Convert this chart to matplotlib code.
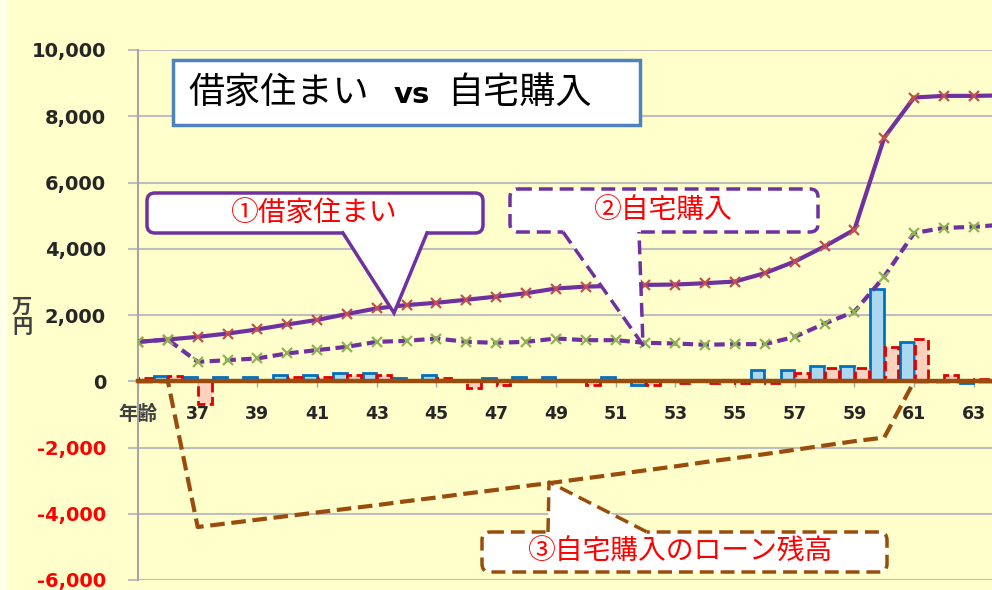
import matplotlib
matplotlib.use("Agg")
import matplotlib.pyplot as plt
from matplotlib.patches import FancyBboxPatch, Polygon, Rectangle
import numpy as np

## chart values (万円)
ages = list(range(35, 65))
renter = [1190, 1260, 1340, 1440, 1565, 1715, 1850, 2030, 2200, 2300,
          2370, 2460, 2555, 2657, 2800, 2857, 2880, 2909, 2920, 2960,
          3010, 3263, 3615, 4070, 4575, 7354, 8566, 8615, 8615, 8630]
owner = [1190, 1260, 585, 636, 690, 840, 940, 1040, 1190, 1220,
         1290, 1190, 1160, 1190, 1290, 1240, 1240, 1160, 1140, 1100,
         1120, 1120, 1340, 1740, 2100, 3160, 4475, 4630, 4660, 4730]
loan = [0, 0, -4400, -4290, -4180, -4070, -3960, -3850, -3740, -3620,
        -3510, -3390, -3280, -3160, -3050, -2930, -2810, -2690, -2570, -2440,
        -2320, -2200, -2070, -1940, -1810, -1700, 0, 0, 0, 0]
bar_blue = [0, 150, 120, 140, 140, 190, 190, 250, 250, 100,
            200, 0, 100, 140, 140, 0, 140, -100, 0, 0,
            50, 330, 330, 465, 455, 2800, 1190, 30, -60, 0]
bar_red = [100, 150, -700, 30, 50, 140, 140, 190, 190, 30,
           100, -200, -120, 0, 0, -120, 0, -100, -60, -60,
           -60, -60, 250, 415, 415, 1040, 1290, 180, 60, 0]
tick_ages = list(range(35, 64, 2))
tick_labels = ["年齢"] + [str(a) for a in tick_ages[1:]]
yticks = list(range(-6000, 10001, 2000))

purple = "#7030A0"
brown = "#9A4C0C"
bg = "#FFFFCC"
fonts = ["DejaVu Sans", "Noto Sans CJK JP"]
jp = ["Noto Sans CJK JP", "DejaVu Sans"]

fig = plt.figure(figsize=(9.92, 5.9), dpi=100, facecolor=bg)
ax = fig.add_axes([138 / 992, 10 / 590, 1 - 138 / 992, 530 / 590])
ax.set_facecolor(bg)

x = np.array(ages)
ax.bar(x - 0.245, bar_blue, width=0.46, color="#A9D8F0", edgecolor="#0070C0",
       linewidth=2, zorder=1)
ax.bar(x + 0.245, bar_red, width=0.46, color="#FCD2BE", edgecolor="#E00000",
       linewidth=2, linestyle="--", zorder=1)

ax.plot(ages, loan, color=brown, lw=3, ls=(0, (3.5, 1.6)), zorder=3)
ax.plot(ages, renter, color=purple, lw=3, marker="x", ms=7, mew=1.6,
        mec="#C0504D", zorder=4)
ax.plot(ages, owner, color=purple, lw=3, ls=(0, (2.5, 1.3)), marker="x", ms=7,
        mew=1.6, mec="#8DB352", zorder=5)

ax.set_xlim(35, 63.61)
ax.set_ylim(-6000, 10000)
ax.grid(axis="y", color="#BEBEBE", lw=1.5, zorder=0)
ax.set_axisbelow(True)

for s in ["top", "right"]:
    ax.spines[s].set_visible(False)
ax.spines["left"].set_color("#A6A6A6")
ax.spines["left"].set_linewidth(1.5)
ax.spines["bottom"].set_position(("data", 0))
ax.spines["bottom"].set_color(brown)
ax.spines["bottom"].set_linewidth(3.2)
ax.spines["bottom"].set_zorder(2.5)

ax.set_xticks(tick_ages)
ax.set_xticklabels(tick_labels, family=fonts, fontsize=12.5, fontweight="bold",
                   color="#262626")
ax.get_xticklabels()[0].set_fontsize(14)
ax.get_xticklabels()[0].set_color("#404040")
ax.tick_params(axis="x", length=4, width=1, color="#A6A6A6", pad=13)
ax.set_yticks(yticks)
ax.set_yticklabels([f"{v:,}" for v in yticks], fontsize=14, fontweight="bold")
ax.tick_params(axis="y", length=7, width=1.5, color="#BEBEBE", pad=16)
for lab, v in zip(ax.get_yticklabels(), yticks):
    lab.set_color("#FF0000" if v < 0 else "#262626")

fig.text(22 / 992, 1 - 316 / 590, "万\n円", family=jp, fontsize=14.5,
         fontweight="bold", color="#404040", ha="center", va="center",
         linespacing=0.95)

## overlay in pixel units for the title box and callouts
ov = fig.add_axes([0, 0, 1, 1], zorder=10)
ov.set_xlim(0, 992)
ov.set_ylim(590, 0)
ov.axis("off")
ov.patch.set_alpha(0)
ov.add_patch(Rectangle((0, 0), 7, 590, fc="white", ec="none", alpha=0.6))

ov.add_patch(Rectangle((173, 60), 467, 65, fc="white", ec="#4F81BD", lw=2.5))
ov.text(188, 93, "借家住まい", family=jp, fontsize=26, va="center", ha="left")
ov.text(412, 95, "vs", family=fonts, fontsize=21, fontweight="bold",
        va="center", ha="center")
ov.text(447, 93, "自宅購入", family=jp, fontsize=26, va="center", ha="left")


def callout(x0, y0, x1, y1, bl, br, by, tip, ec, ls, text, tx):
    ov.add_patch(FancyBboxPatch((x0, y0), x1 - x0, y1 - y0,
                                boxstyle="round,pad=0,rounding_size=8",
                                fc="white", ec=ec, lw=2.5, ls=ls))
    d = -4 if by == y1 else 4
    ov.add_patch(Polygon([(bl + 1.5, by + d), (bl, by), tip, (br, by),
                          (br - 1.5, by + d)], fc="white", ec="none"))
    ov.plot([bl, tip[0], br], [by, tip[1], by], color=ec, lw=2.5, ls=ls,
            solid_joinstyle="miter")
    ov.text(tx, (y0 + y1) / 2, text, family=jp, fontsize=20, color="#FF0000",
            ha="center", va="center")


callout(147, 193, 483, 233, 343, 427, 233, (394, 313), purple, "-",
        "①借家住まい", 313)
callout(510, 189, 818, 232, 563, 639, 232, (643, 345), purple, (0, (4, 2)),
        "②自宅購入", 662)
callout(482, 532, 887, 572, 548, 647, 532, (549, 482), brown, (0, (4, 2)),
        "③自宅購入のローン残高", 680)

fig.savefig("out.png", dpi=100, facecolor=bg)
plt.close()
